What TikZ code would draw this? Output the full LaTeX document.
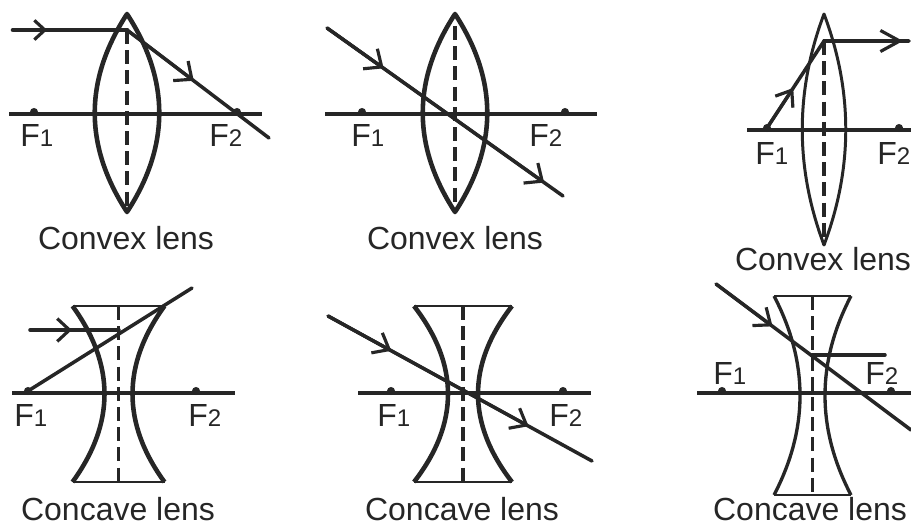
\documentclass[tikz,border=0pt]{standalone}
\usepackage{fontspec}
\setmainfont{Liberation Sans}
\usetikzlibrary{arrows.meta,calc}
\definecolor{inkc}{HTML}{262626}
\newcommand{\Fsub}[1]{F{\fontsize{13.7}{15}\selectfont#1}}
\tikzset{
 axisl/.style={line width=2pt,draw=inkc},
 lensl/.style={line width=2.6pt,draw=inkc},
 edgel/.style={line width=1.6pt,draw=inkc},
 midl/.style={line width=2.2pt,draw=inkc,dash pattern=on 8pt off 3.5pt},
 rayl/.style={line width=2pt,draw=inkc,line cap=round},
 tipl/.style={line width=1.8pt,draw=inkc,-{Straight Barb[length=6pt,width=11pt,line width=1.8pt]}},
 lablens/.style={inner sep=0,anchor=base west,text=inkc,font=\fontsize{18.2}{20}\selectfont},
 caplens/.style={inner sep=0,anchor=base,text=inkc,font=\fontsize{18.2}{20}\selectfont},
}
\begin{document}
\begin{tikzpicture}[x=.02cm,y=-.02cm]
 \useasboundingbox (0,0) rectangle (911,527);
 \foreach \n/\xa/\xb/\ya/\fa/\fb in {a/9/262/114/34/237,b/325/597/114/362/565,c/747/911/130/767/899,d/12/235/393/28/196,e/358/591/393/391/563,f/697/911/393/722/891}{
  \coordinate (ax\n) at (\xa,\ya);\coordinate (bx\n) at (\xb,\ya);
  \coordinate (fa\n) at (\fa,\ya-2);\coordinate (fb\n) at (\fb,\ya-2);
  \draw[axisl] (ax\n)--(bx\n);\fill[inkc] (fa\n) circle (2.3pt) (fb\n) circle (2.3pt);
 }
 \foreach \c/\ya/\yb/\o/\w/\m in {127/14/212/43/2.6pt/30,455/14/212/43/2.6pt/26,824/14/245/29/1.7pt/41}{
  \draw[lensl,line width=\w,line join=round] (\c,\ya) .. controls ({\c-\o},{\ya+(\yb-\ya)/3}) and ({\c-\o},{\yb-(\yb-\ya)/3}) .. (\c,\yb)
   .. controls ({\c+\o},{\yb-(\yb-\ya)/3}) and ({\c+\o},{\ya+(\yb-\ya)/3}) .. cycle;
  \draw[midl] (\c,\m)--(\c,\yb);
 }
 \foreach \c/\ya/\yb/\o/\h/\w in {118.5/306/482/46/14/2.6pt,463/306/482/49/15/2.6pt,812.5/296/495/38.5/12.5/1.9pt}{
  \draw[lensl,line width=\w] ({\c-\o},\ya) .. controls ({\c-(\h-.25*\o)/.75},{\ya+(\yb-\ya)/3}) and ({\c-(\h-.25*\o)/.75},{\yb-(\yb-\ya)/3}) .. ({\c-\o},\yb);
  \draw[lensl,line width=\w] ({\c+\o},\ya) .. controls ({\c+(\h-.25*\o)/.75},{\ya+(\yb-\ya)/3}) and ({\c+(\h-.25*\o)/.75},{\yb-(\yb-\ya)/3}) .. ({\c+\o},\yb);
  \draw[edgel] ({\c-\o},\ya)--({\c+\o},\ya) ({\c-\o},\yb)--({\c+\o},\yb);
  \draw[midl] (\c,\ya)--(\c,\yb);
 }
 \coordinate (r1a) at (13,30);\coordinate (r1b) at (127,30);\coordinate (r1c) at (269,138);
 \draw[rayl,line width=2.6pt] (r1a)--(r1b);\draw[rayl] (r1b)--(r1c);
 \draw[tipl] (r1a)--($(r1a)!.3!(r1b)$);\draw[tipl,-{Straight Barb[length=8pt,width=14pt,line width=1.8pt]}] (r1b)--($(r1b)!.47!(r1c)$);
 \coordinate (r2a) at (327,28);\coordinate (r2b) at (563,196);
 \draw[rayl] (r2a)--(r2b);
 \draw[tipl,-{Straight Barb[length=8pt,width=14pt,line width=1.8pt]}] (r2a)--($(r2a)!.24!(r2b)$);\draw[tipl,-{Straight Barb[length=8pt,width=14pt,line width=1.8pt]}] (r2a)--($(r2a)!.92!(r2b)$);
 \coordinate (r3a) at (824,41);\coordinate (r3b) at (909,41);
 \draw[rayl] (fac)--(r3a)--(r3b);
 \draw[tipl,-{Straight Barb[length=11pt,width=12pt,line width=1.8pt]}] (r3a)--(903,41);\draw[tipl,-{Straight Barb[length=8pt,width=12pt,line width=1.8pt]}] (fac)--($(fac)!.46!(r3a)$);
 \coordinate (r4a) at (30,330);\coordinate (r4b) at (119,330);\coordinate (r4c) at (192,288);
 \draw[rayl] (r4a)--(r4b);\draw[rayl] (fad)--(r4c);
 \draw[tipl,-{Straight Barb[length=7pt,width=13pt,line width=1.8pt]}] (r4a)--($(r4a)!.47!(r4b)$);
 \coordinate (r5a) at (328,316);\coordinate (r5b) at (592,461);
 \draw[rayl] (r5a)--(r5b);
 \draw[tipl,-{Straight Barb[length=8pt,width=13pt,line width=1.8pt]}] (r5a)--($(r5a)!.24!(r5b)$);\draw[tipl,-{Straight Barb[length=8pt,width=13pt,line width=1.8pt]}] (r5a)--($(r5a)!.76!(r5b)$);
 \coordinate (r6a) at (716,284);\coordinate (r6b) at (911,430);\coordinate (r6c) at (812,355);\coordinate (r6d) at (885,355);
 \draw[rayl] (r6a)--(r6b);\draw[rayl] (r6c)--(r6d);
 \draw[tipl,-{Straight Barb[length=8pt,width=13pt,line width=1.8pt]}] (r6a)--($(r6a)!.29!(r6b)$);
 \foreach \n/\x/\y/\k in {la/20/146/1,lb/209/146/2,lc/351/146/1,ld/529/146/2,le/755/164/1,lf/877/164/2,lg/14/426/1,lh/188/426/2,li/377/426/1,lj/549/426/2,lk/713/384/1,ll/865/384/2}{
  \node[lablens] (\n) at (\x,\y) {\Fsub{\k}};
 }
 \foreach \n/\x/\y/\t in {ca/126/249/Convex lens,cb/455/249/Convex lens,cc/823/270/Convex lens,cd/118/520/Concave lens,ce/462/520/Concave lens,cf/810/520/Concave lens}{
  \node[caplens] (\n) at (\x,\y) {\t};
 }
\end{tikzpicture}
\end{document}
